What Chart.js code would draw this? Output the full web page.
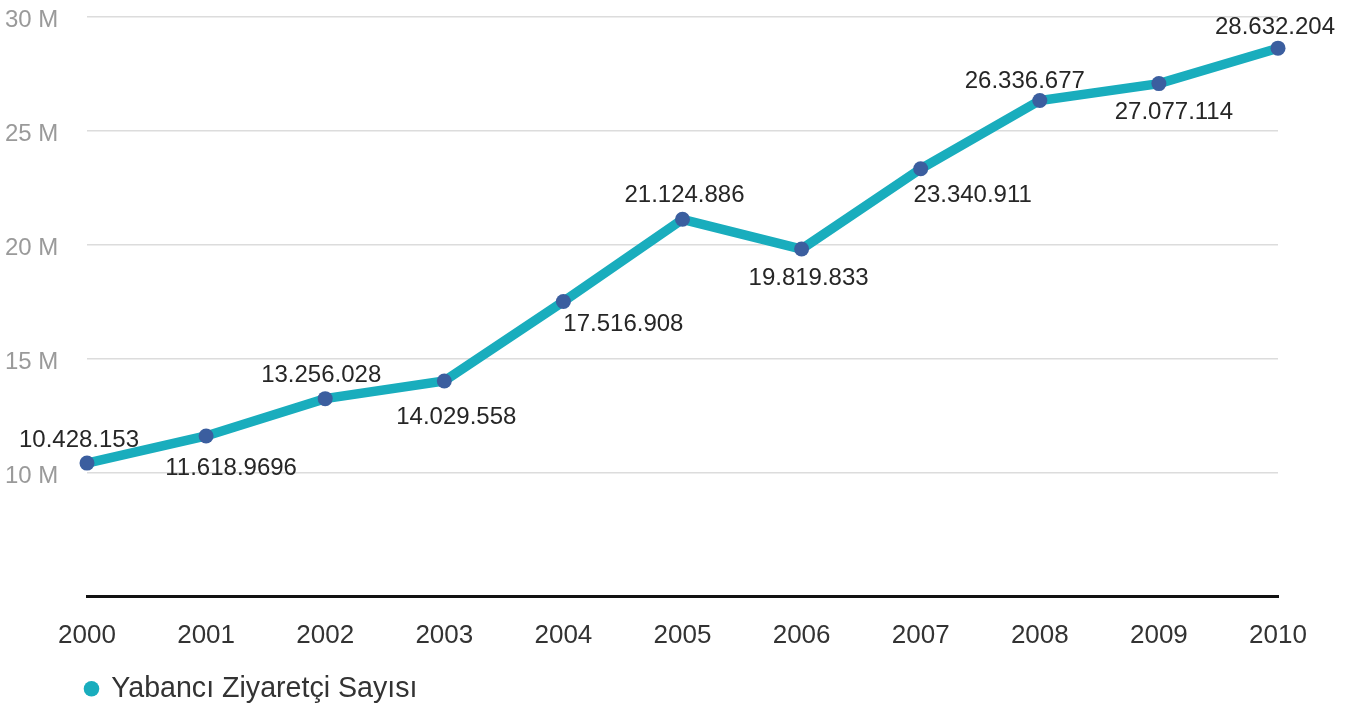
<!DOCTYPE html>
<html>
<head>
<meta charset="utf-8">
<script src="https://cdn.jsdelivr.net/npm/chart.js@4/dist/chart.umd.min.js"></script>
<style>
    body { margin: 0; background: #fff; }
    #kutu { width: 1353px; height: 704px; position: relative; }
</style>
</head>
<body>
<div id="kutu"><canvas id="grafik"></canvas></div>
<script>
// Veriler
const yillar = ['2000', '2001', '2002', '2003', '2004', '2005', '2006', '2007', '2008', '2009', '2010'];
const ziyaretci = [10428153, 11618969, 13256028, 14029558, 17516908, 21124886, 19819833, 23340911, 26336677, 27077114, 28632204];
const etiketler = ['10.428.153', '11.618.9696', '13.256.028', '14.029.558', '17.516.908', '21.124.886',
    '19.819.833', '23.340.911', '26.336.677', '27.077.114', '28.632.204'];
const yTikler = [10000000, 15000000, 20000000, 25000000, 30000000];
const seriAdi = 'Yabancı Ziyaretçi Sayısı';

// etiketlerin noktaya göre kaydırması (dx, dy)
const etiketYeri = [[-8, -23], [25, 32], [-4, -23], [12, 36], [60, 23], [2, -24],
    [7, 29], [52, 27], [-15, -19], [15, 29], [-3, -21]];

const degerYazisi = {
    id: 'degerYazisi',
    afterDatasetsDraw(chart) {
        const ctx = chart.ctx;
        const noktalar = chart.getDatasetMeta(0).data;
        ctx.save();
        ctx.font = '24px "Liberation Sans", Arial, sans-serif';
        ctx.fillStyle = '#262626';
        ctx.textAlign = 'center';
        ctx.textBaseline = 'middle';
        noktalar.forEach((p, i) => {
            ctx.fillText(etiketler[i], p.x + etiketYeri[i][0], p.y + etiketYeri[i][1]);
        });
        ctx.restore();
    }
};

// lejantı sağa (ve biraz yukarı) kaydır
const lejantKaydir = {
    id: 'lejantKaydir',
    afterLayout(chart) {
        const l = chart.legend;
        if (l) {
            l.left = 76;
            l.top -= 11;
            l.bottom -= 11;
        }
    }
};

let chart;

function initChart() {
    const ctx = document.getElementById('grafik').getContext('2d');
    chart = new Chart(ctx, {
        type: 'line',
        data: {
            labels: yillar,
            datasets: [{
                label: seriAdi,
                data: ziyaretci,
                borderColor: '#19adbd',
                backgroundColor: '#19adbd',
                borderWidth: 9.5,
                pointRadius: 7.5,
                pointHoverRadius: 7.5,
                pointBorderWidth: 0,
                pointBackgroundColor: '#3b5e9f',
                tension: 0,
                clip: false
            }]
        },
        options: {
            responsive: true,
            maintainAspectRatio: false,
            animation: false,
            layout: { padding: { left: 5, right: 75, top: 17, bottom: -20 } },
            scales: {
                x: {
                    offset: false,
                    grid: { display: false, drawTicks: false },
                    border: { color: '#111', width: 3 },
                    ticks: {
                        color: '#333',
                        padding: 24,
                        font: { size: 26, family: '"Liberation Sans", Arial, sans-serif' }
                    }
                },
                y: {
                    min: 4590000,
                    max: 30000000,
                    afterFit(scale) { scale.width = 82; },
                    afterBuildTicks(scale) {
                        scale.ticks = yTikler.map(v => ({ value: v }));
                    },
                    grid: { color: '#dcdcdc', lineWidth: 1.5, drawTicks: false },
                    border: { display: false },
                    ticks: {
                        color: '#9a9a9a',
                        crossAlign: 'far',
                        padding: 0,
                        labelOffset: 3,
                        font: { size: 24, family: '"Liberation Sans", Arial, sans-serif' },
                        callback: v => (v / 1000000) + ' M'
                    }
                }
            },
            plugins: {
                legend: {
                    position: 'bottom',
                    align: 'start',
                    labels: {
                        usePointStyle: true,
                        pointStyle: 'circle',
                        boxWidth: 11,
                        boxHeight: 11,
                        padding: 10,
                        color: '#333',
                        font: { size: 28.6, family: '"Liberation Sans", Arial, sans-serif' },
                        generateLabels(c) {
                            const items = Chart.defaults.plugins.legend.labels.generateLabels(c);
                            items.forEach(it => { it.fillStyle = '#19adbd'; it.strokeStyle = '#19adbd'; it.lineWidth = 0; });
                            return items;
                        }
                    }
                },
                tooltip: { enabled: false }
            }
        },
        plugins: [degerYazisi, lejantKaydir]
    });
}

window.onload = () => {
    initChart();
};
</script>
</body>
</html>
